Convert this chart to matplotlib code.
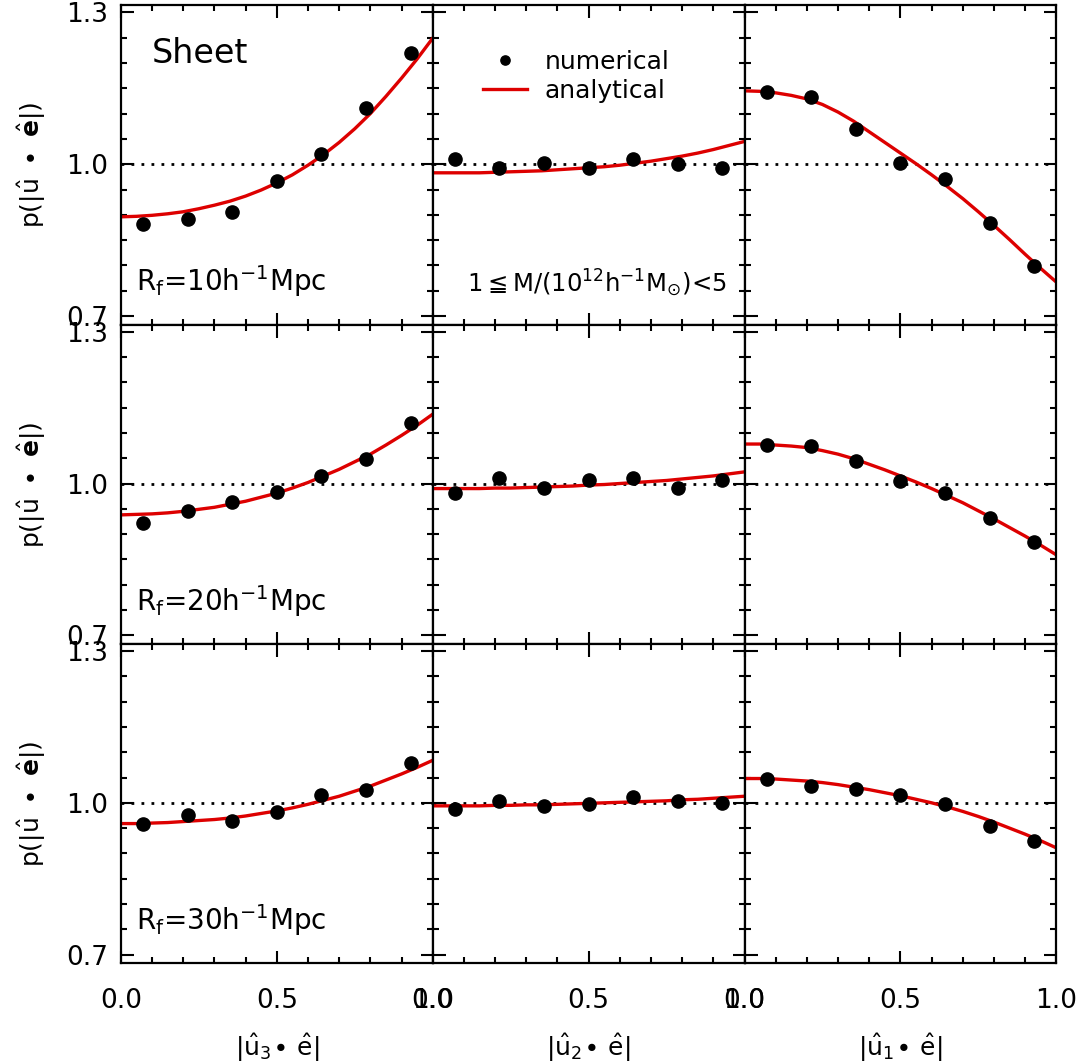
import matplotlib
matplotlib.use("Agg")
import matplotlib.pyplot as plt
from matplotlib.ticker import MultipleLocator, FormatStrFormatter

plt.rcParams["font.family"] = ["DejaVu Sans"]
plt.rcParams["mathtext.fontset"] = "dejavusans"
plt.rcParams["mathtext.default"] = "regular"

# bin centres of |u.e| and x grid of the analytical curves
x_num = [0.071, 0.214, 0.357, 0.500, 0.643, 0.786, 0.929]
x_fit = [0.00, 0.05, 0.10, 0.15, 0.20, 0.25, 0.30, 0.35, 0.40, 0.45, 0.50,
         0.55, 0.60, 0.65, 0.70, 0.75, 0.80, 0.85, 0.90, 0.95, 1.00]

# Rf = 10 Mpc/h
num_r10_u3 = [0.881, 0.892, 0.906, 0.967, 1.020, 1.112, 1.220]
fit_r10_u3 = [0.896, 0.897, 0.899, 0.902, 0.906, 0.912, 0.919, 0.927, 0.937, 0.949, 0.963,
              0.979, 0.998, 1.019, 1.043, 1.070, 1.100, 1.134, 1.170, 1.208, 1.249]
num_r10_u2 = [1.011, 0.993, 1.002, 0.993, 1.011, 1.000, 0.993]
fit_r10_u2 = [0.983, 0.983, 0.983, 0.983, 0.984, 0.985, 0.986, 0.987, 0.989, 0.991, 0.993,
              0.995, 0.998, 1.002, 1.006, 1.011, 1.016, 1.022, 1.029, 1.037, 1.045]
num_r10_u1 = [1.143, 1.132, 1.070, 1.003, 0.970, 0.883, 0.799]
fit_r10_u1 = [1.145, 1.144, 1.141, 1.136, 1.129, 1.118, 1.103, 1.085, 1.064, 1.043, 1.022,
              1.001, 0.979, 0.956, 0.932, 0.906, 0.879, 0.851, 0.822, 0.794, 0.767]

# Rf = 20 Mpc/h
num_r20_u3 = [0.922, 0.946, 0.963, 0.984, 1.014, 1.049, 1.119]
fit_r20_u3 = [0.938, 0.939, 0.940, 0.942, 0.945, 0.949, 0.953, 0.959, 0.965, 0.973, 0.981,
              0.991, 1.002, 1.015, 1.028, 1.043, 1.058, 1.076, 1.095, 1.115, 1.137]
num_r20_u2 = [0.982, 1.010, 0.992, 1.007, 1.010, 0.992, 1.007]
fit_r20_u2 = [0.990, 0.990, 0.990, 0.990, 0.991, 0.991, 0.992, 0.993, 0.994, 0.995, 0.997,
              0.998, 1.000, 1.002, 1.004, 1.006, 1.009, 1.012, 1.015, 1.019, 1.023]
num_r20_u1 = [1.076, 1.074, 1.044, 1.005, 0.982, 0.931, 0.885]
fit_r20_u1 = [1.078, 1.078, 1.076, 1.074, 1.071, 1.065, 1.058, 1.049, 1.038, 1.027, 1.015,
              1.003, 0.990, 0.976, 0.962, 0.946, 0.930, 0.913, 0.896, 0.878, 0.859]

# Rf = 30 Mpc/h
num_r30_u3 = [0.958, 0.976, 0.964, 0.982, 1.015, 1.025, 1.078]
fit_r30_u3 = [0.959, 0.959, 0.960, 0.961, 0.963, 0.965, 0.967, 0.970, 0.974, 0.979, 0.984,
              0.990, 0.997, 1.005, 1.013, 1.023, 1.033, 1.045, 1.057, 1.070, 1.084]
num_r30_u2 = [0.987, 1.003, 0.993, 0.997, 1.012, 1.003, 1.000]
fit_r30_u2 = [0.994, 0.994, 0.994, 0.994, 0.995, 0.995, 0.996, 0.996, 0.997, 0.998, 0.999,
              1.000, 1.001, 1.002, 1.003, 1.004, 1.006, 1.007, 1.009, 1.011, 1.013]
num_r30_u1 = [1.048, 1.034, 1.028, 1.015, 0.997, 0.954, 0.924]
fit_r30_u1 = [1.048, 1.048, 1.047, 1.045, 1.043, 1.040, 1.036, 1.031, 1.026, 1.020, 1.014,
              1.007, 1.000, 0.992, 0.983, 0.973, 0.962, 0.950, 0.938, 0.925, 0.911]

rows = [
    [(num_r10_u3, fit_r10_u3), (num_r10_u2, fit_r10_u2), (num_r10_u1, fit_r10_u1)],
    [(num_r20_u3, fit_r20_u3), (num_r20_u2, fit_r20_u2), (num_r20_u1, fit_r20_u1)],
    [(num_r30_u3, fit_r30_u3), (num_r30_u2, fit_r30_u2), (num_r30_u1, fit_r30_u1)],
]
rf_labels = [r"R$_{f}$=10h$^{-1}$Mpc", r"R$_{f}$=20h$^{-1}$Mpc", r"R$_{f}$=30h$^{-1}$Mpc"]
xlabels = [r"|$\hat{u}_{3}\!\bullet\,\hat{e}$|", r"|$\hat{u}_{2}\!\bullet\,\hat{e}$|",
           r"|$\hat{u}_{1}\!\bullet\,\hat{e}$|"]
ylabel = r"p(|$\hat{u}\ \bullet\ \hat{\mathbf{e}}$|)"

red = "#dd0000"

fig, axes = plt.subplots(3, 3, figsize=(10.89, 10.62), dpi=100)
fig.subplots_adjust(left=0.111, right=0.970, top=0.995, bottom=0.093, wspace=0, hspace=0)

for i in range(3):
    for j in range(3):
        ax = axes[i, j]
        num, fit = rows[i][j]
        ax.axhline(1.0, color="black", ls=(0, (1, 2.6)), lw=2.0, zorder=1)
        ax.plot(x_fit, fit, color=red, lw=2.4, zorder=2, label="analytical")
        ax.plot(x_num, num, "o", color="black", ms=9.5, zorder=3, label="numerical")
        ax.set_xlim(0, 1)
        ax.set_ylim(0.683, 1.314)
        ax.set_xticks([0.0, 0.5, 1.0])
        ax.xaxis.set_minor_locator(MultipleLocator(0.1))
        ax.set_yticks([0.7, 1.0, 1.3])
        ax.yaxis.set_minor_locator(MultipleLocator(0.05))
        ax.xaxis.set_major_formatter(FormatStrFormatter("%.1f"))
        ax.yaxis.set_major_formatter(FormatStrFormatter("%.1f"))
        ax.tick_params(which="both", direction="in", top=True, right=True, width=1.5)
        ax.tick_params(which="major", length=9, labelsize=19)
        ax.tick_params(which="minor", length=4.5)
        ax.tick_params(axis="x", pad=18)
        ax.tick_params(axis="y", pad=9)
        for sp in ax.spines.values():
            sp.set_linewidth(1.6)
        if j > 0:
            ax.tick_params(labelleft=False)
        else:
            ax.set_ylabel(ylabel, fontsize=18, labelpad=13)
            ax.text(0.05, 0.135, rf_labels[i], transform=ax.transAxes,
                    fontsize=20, va="center", ha="left")
        if i < 2:
            ax.tick_params(labelbottom=False)
        else:
            ax.set_xlabel(xlabels[j], fontsize=18, labelpad=12)

axes[0, 0].text(0.10, 0.85, "Sheet", transform=axes[0, 0].transAxes,
                fontsize=24, va="center", ha="left")
axes[0, 1].text(0.11, 0.13, r"1$\leqq$M/(10$^{12}$h$^{-1}$M$_{\odot}$)<5",
                transform=axes[0, 1].transAxes, fontsize=17.5, va="center", ha="left")

h, l = axes[0, 1].get_legend_handles_labels()
leg = axes[0, 1].legend([h[1], h[0]], [l[1], l[0]], loc="upper left",
                        bbox_to_anchor=(0.09, 0.93), frameon=False, fontsize=18,
                        handlelength=1.75, handletextpad=0.7, labelspacing=0.2,
                        markerscale=0.7)

fig.savefig("out.png", dpi=100)
